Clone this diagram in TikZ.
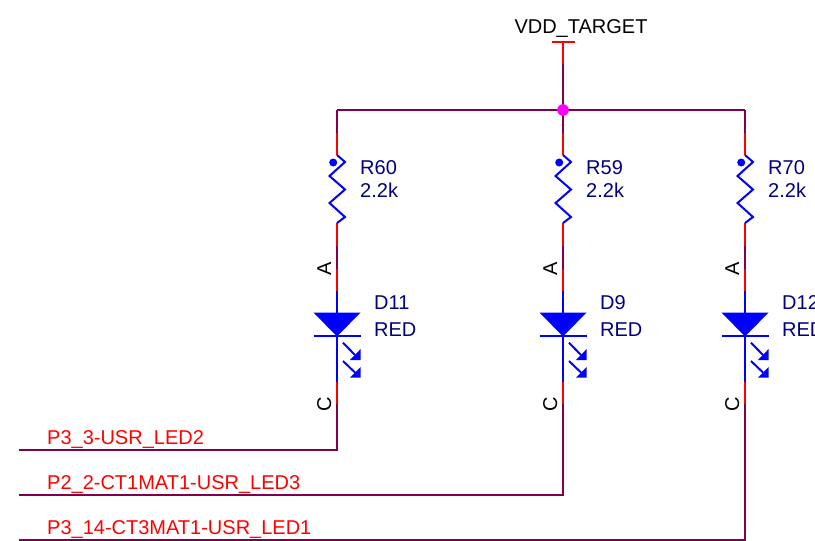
\documentclass[tikz,border=0pt]{standalone}
\usepackage{fontspec}
\setmainfont{Liberation Sans}
\definecolor{wirec}{RGB}{128,0,80}
\definecolor{navyc}{RGB}{0,0,128}
\definecolor{pinc}{RGB}{255,0,0}
\definecolor{bluec}{RGB}{0,0,255}
\definecolor{dotc}{RGB}{255,0,255}
\tikzset{
  wire/.style={draw=wirec,line width=2pt},
  pinred/.style={draw=pinc,line width=2pt},
  bodyblue/.style={draw=bluec,line width=2pt,line join=miter},
  lbl/.style={font=\fontsize{20}{20}\selectfont,inner sep=0pt,anchor=base west},
  partlbl/.style={lbl,text=navyc},
  netlbl/.style={lbl,text=pinc},
  pinlbl/.style={font=\fontsize{20}{20}\selectfont,inner sep=0pt,text=black,rotate=90,anchor=base},
}
\begin{document}
\begin{tikzpicture}[x=1pt,y=-1pt]
\useasboundingbox (0,0) rectangle (815,541);
\clip (0,0) rectangle (815,541);
% power
\node[inner sep=0pt,anchor=base,font=\fontsize{20}{20}\selectfont,text=black] (vddlabel) at (581,33) {VDD\_TARGET};
\coordinate (vddL) at (552,42);
\coordinate (vddR) at (575,42);
\coordinate (vddT) at (563,42);
\coordinate (vddM) at (563,64);
\coordinate (junction) at (563,110);
\foreach \n/\x/\R/\D/\ylab/\net in {a/337/R60/D11/450/P3\_3-USR\_LED2,b/563/R59/D9/495/P2\_2-CT1MAT1-USR\_LED3,c/745/R70/D12/540/P3\_14-CT3MAT1-USR\_LED1}{
  \coordinate (\n top) at (\x,110);
  \coordinate (\n p1) at (\x,133);
  \coordinate (\n p2) at (\x,155);
  \coordinate (\n r1) at (\x+8,162);
  \coordinate (\n r2) at (\x-7.5,176);
  \coordinate (\n r3) at (\x+8,189.5);
  \coordinate (\n r4) at (\x-7.5,203);
  \coordinate (\n r5) at (\x+8,217);
  \coordinate (\n p3) at (\x,223);
  \coordinate (\n p4) at (\x,246);
  \coordinate (\n p5) at (\x,269);
  \coordinate (\n p6) at (\x,291);
  \coordinate (\n tri) at (\x,312.7);
  \coordinate (\n apex) at (\x,336.3);
  \coordinate (\n p7) at (\x,381.5);
  \coordinate (\n p8) at (\x,403.5);
  \coordinate (\n corner) at (\x,\ylab);
  \coordinate (\n end) at (19,\ylab);
  % wires and pins
  \draw[wire] (\n top) -- (\n p1);
  \draw[pinred] (\n p1) -- (\n p2);
  \draw[pinred] (\n p3) -- (\n p4);
  \draw[wire] (\n p4) -- (\n p5);
  \draw[pinred] (\n p5) -- (\n p6);
  \draw[pinred] (\n p7) -- (\n p8);
  \draw[wire,line join=miter] (\n p8) -- (\n corner) -- (\n end);
  % resistor
  \draw[bodyblue] (\n p2) -- (\n r1) -- (\n r2) -- (\n r3) -- (\n r4) -- (\n r5) -- (\n p3);
  \fill[bluec] (\x-3.8,162.5) circle[radius=4];
  % diode
  \draw[bodyblue] (\n p6) -- (\n p7);
  \fill[bluec] (\x-23.5,312.7) -- (\x+23.5,312.7) -- (\n apex) -- cycle;
  \draw[bodyblue] (\x-23.5,336.3) -- (\x+23.5,336.3);
  % emission arrows
  \draw[bodyblue] (\x+6,342.7) -- (\x+18,355);
  \fill[bluec] (\x+23.7,349) -- (\x+23.7,360) -- (\x+13,360) -- cycle;
  \draw[bodyblue] (\x+6,361) -- (\x+18,372.5);
  \fill[bluec] (\x+23.7,367) -- (\x+23.7,377.5) -- (\x+13,377.5) -- cycle;
  % texts
  \node[partlbl] (\n rname) at (\x+23,174) {\R};
  \node[partlbl] (\n rval) at (\x+23,197) {2.2k};
  \node[partlbl] (\n dname) at (\x+37,309) {\D};
  \node[partlbl] (\n dval) at (\x+37,336) {RED};
  \node[pinlbl] (\n A) at (\x-6,268.5) {A};
  \node[pinlbl] (\n C) at (\x-6,404) {C};
  \node[netlbl] (\n net) at (47,\ylab-6) {\net};
}
\draw[wire] (atop) -- (ctop);
\draw[pinred] (vddL) -- (vddR);
\draw[pinred] (vddT) -- (vddM);
\draw[wire] (vddM) -- (junction);
\fill[dotc] (junction) circle[radius=5.8];
\end{tikzpicture}
\end{document}
